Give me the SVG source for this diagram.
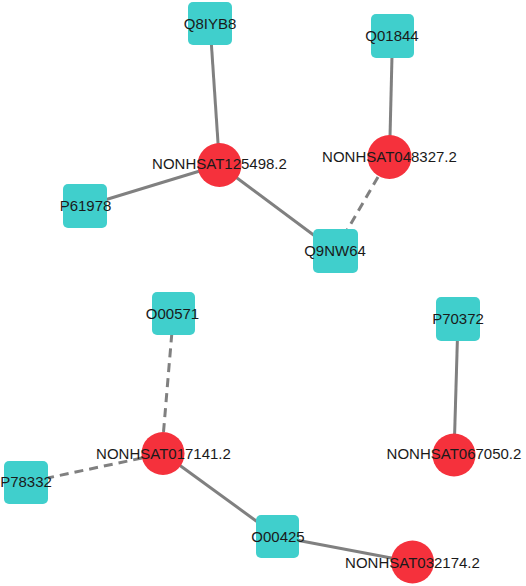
<svg xmlns="http://www.w3.org/2000/svg" width="526" height="586" viewBox="0 0 526 586">
<style>
.e{stroke:#808080;stroke-width:3;fill:none}
.d{stroke-dasharray:9 6}
.p{fill:#40CFCC}
.r{fill:#F5313C}
text{font-family:"Liberation Sans",Arial,sans-serif;font-size:15px;fill:#1a1a1a;text-anchor:middle}
</style>
<rect width="526" height="586" fill="#fff"/>
<g id="edges">
<line class="e" x1="210" y1="23.5" x2="219.5" y2="165"/>
<line class="e" x1="85" y1="206" x2="219.5" y2="165"/>
<line class="e" x1="219.5" y1="165" x2="335" y2="251"/>
<line class="e" x1="392.5" y1="36" x2="389.5" y2="157"/>
<line class="e d" x1="378" y1="177" x2="335" y2="251"/>
<line class="e d" x1="163.5" y1="432" x2="173.5" y2="313.5"/>
<line class="e d" x1="142" y1="458" x2="26" y2="482.5"/>
<line class="e" x1="163.5" y1="453.5" x2="277.5" y2="536.5"/>
<line class="e" x1="277.5" y1="536.5" x2="412.5" y2="562"/>
<line class="e" x1="458" y1="319" x2="454" y2="455"/>
</g>
<g id="Q8IYB8"><rect class="p" x="188" y="2" width="44" height="43" rx="5"/><text x="210" y="28.5">Q8IYB8</text></g>
<g id="Q01844"><rect class="p" x="371" y="14" width="43" height="44" rx="5"/><text x="392" y="41">Q01844</text></g>
<g id="P61978"><rect class="p" x="63" y="184" width="44" height="44" rx="5"/><text x="85.5" y="211">P61978</text></g>
<g id="Q9NW64"><rect class="p" x="313" y="229" width="45" height="44" rx="5"/><text x="335" y="255.5">Q9NW64</text></g>
<g id="NONHSAT125498.2"><circle class="r" cx="219.5" cy="165" r="22"/><text x="219.5" y="169">NONHSAT125498.2</text></g>
<g id="NONHSAT048327.2"><circle class="r" cx="389.5" cy="157" r="22"/><text x="389.5" y="162">NONHSAT048327.2</text></g>
<g id="O00571"><rect class="p" x="152" y="292" width="43" height="43" rx="5"/><text x="172.5" y="318.7">O00571</text></g>
<g id="P70372"><rect class="p" x="436" y="297" width="44" height="44" rx="5"/><text x="458" y="324.4">P70372</text></g>
<g id="P78332"><rect class="p" x="4" y="461" width="44" height="43" rx="5"/><text x="26" y="487">P78332</text></g>
<g id="O00425"><rect class="p" x="256" y="515" width="43" height="43" rx="5"/><text x="278" y="542">O00425</text></g>
<g id="NONHSAT017141.2"><circle class="r" cx="163" cy="453.5" r="21.5"/><text x="163.5" y="458.7">NONHSAT017141.2</text></g>
<g id="NONHSAT067050.2"><circle class="r" cx="454" cy="455" r="21.5"/><text x="454" y="459.4">NONHSAT067050.2</text></g>
<g id="NONHSAT032174.2"><circle class="r" cx="412.5" cy="562" r="21.5"/><text x="412.5" y="567.6">NONHSAT032174.2</text></g>
</svg>
